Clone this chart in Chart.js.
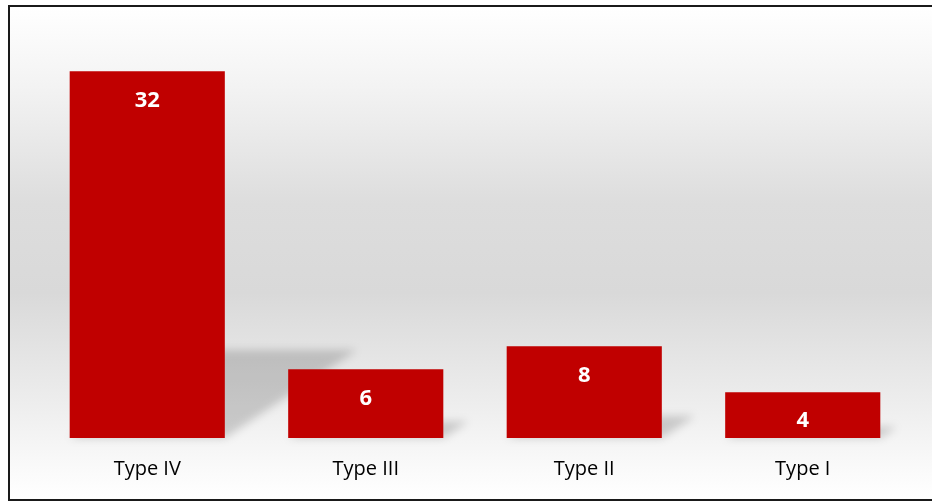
<!DOCTYPE html>
<html lang="en">
<head>
    <meta charset="UTF-8">
    <title>Types</title>
    <script src="https://cdn.jsdelivr.net/npm/chart.js"></script>
    <style>
        html, body { margin: 0; padding: 0; background: #fff; }
        .frame {
            position: absolute; left: 8px; top: 5px; width: 940px; height: 492px;
            border: 2px solid #1a1a1a;
            background: linear-gradient(to bottom, #ffffff 0%, #f3f3f3 16%, #dddddd 40%, #d9d9d9 58%, #ebebeb 78%, #fafafa 94%, #ffffff 100%);
        }
        #chart-box { position: absolute; left: 0; top: 0; width: 932px; height: 502px; }
    </style>
</head>
<body>
    <div class="frame"></div>
    <div id="chart-box"><canvas id="types-chart"></canvas></div>
    <script>
    const categories = ['Type IV', 'Type III', 'Type II', 'Type I'];
    const counts = [32, 6, 8, 4];
    const yMax = 35;

    // perspective shadow behind each bar
    const barShadow = {
        id: 'barShadow',
        beforeDatasetsDraw(chart) {
            const ctx = chart.ctx;
            const meta = chart.getDatasetMeta(0);
            ctx.save();
            ctx.filter = 'blur(4px)';
            ctx.fillStyle = 'rgba(0,0,0,0.17)';
            meta.data.forEach(bar => {
                const h = bar.base - bar.y;
                const sh = h * 0.24;
                const skew = sh * 1.5;
                const l = bar.x - bar.width / 2, r = bar.x + bar.width / 2;
                ctx.beginPath();
                ctx.moveTo(l, bar.base);
                ctx.lineTo(r, bar.base);
                ctx.lineTo(r + skew, bar.base - sh);
                ctx.lineTo(l + skew, bar.base - sh);
                ctx.closePath();
                ctx.fill();
            });
            ctx.restore();
        }
    };

    const valueLabels = {
        id: 'valueLabels',
        afterDatasetsDraw(chart) {
            const ctx = chart.ctx;
            const meta = chart.getDatasetMeta(0);
            ctx.save();
            ctx.fillStyle = '#ffffff';
            ctx.font = 'bold 22px "Open Sans"';
            ctx.textAlign = 'center';
            ctx.textBaseline = 'middle';
            meta.data.forEach((bar, i) => {
                ctx.fillText(String(counts[i]), bar.x, bar.y + 29);
            });
            ctx.restore();
        }
    };

    new Chart(document.getElementById('types-chart'), {
        type: 'bar',
        data: {
            labels: categories,
            datasets: [{
                data: counts,
                backgroundColor: '#c00000',
                borderWidth: 0,
                categoryPercentage: 0.71,
                barPercentage: 1.0
            }]
        },
        options: {
            responsive: true,
            maintainAspectRatio: false,
            animation: false,
            layout: { padding: { left: 38, right: 20, top: 37, bottom: 0 } },
            plugins: { legend: { display: false }, tooltip: { enabled: false } },
            scales: {
                x: {
                    grid: { display: false },
                    border: { display: false },
                    ticks: { color: '#000', font: { family: 'Open Sans', size: 20 }, padding: 11 },
                    afterFit(scale) { scale.height = 64; }
                },
                y: { display: false, min: 0, max: yMax }
            }
        },
        plugins: [barShadow, valueLabels]
    });
    </script>
</body>
</html>
